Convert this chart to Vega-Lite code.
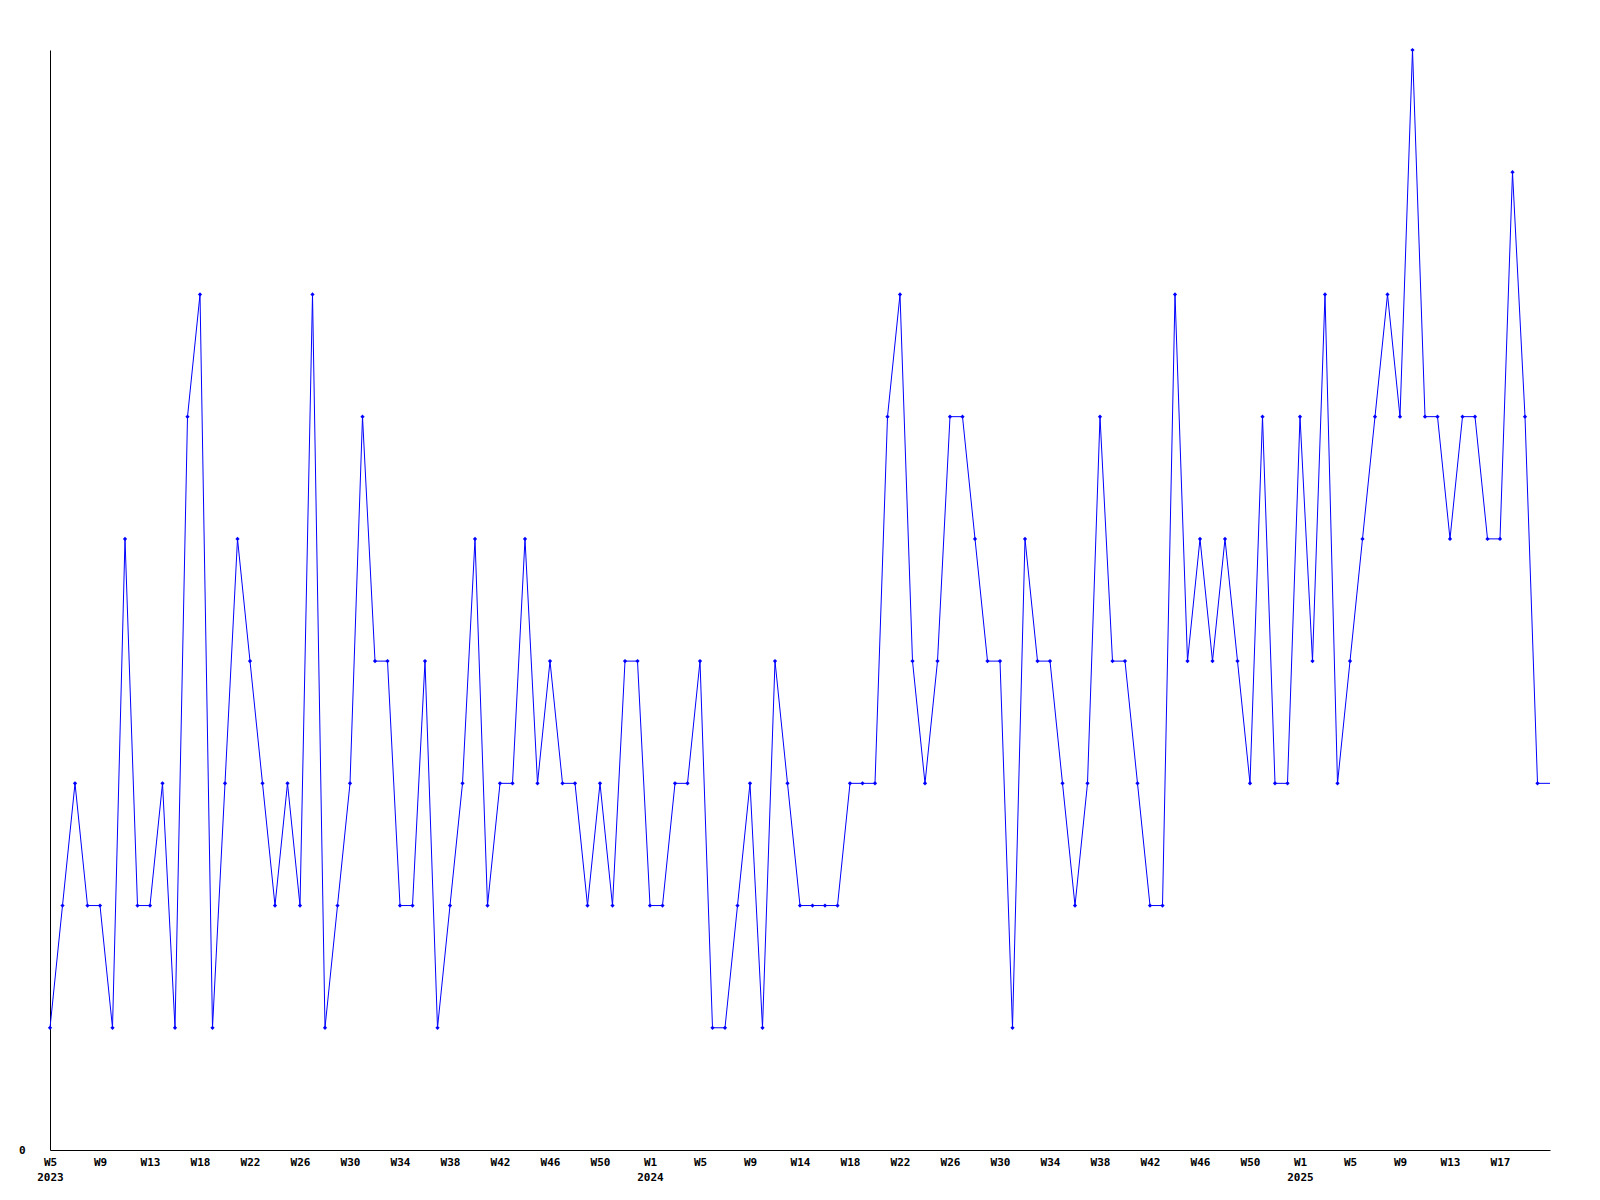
{
  "$schema": "https://vega.github.io/schema/vega-lite/v6.json",
  "width": 1500,
  "height": 1100,
  "autosize": {"type": "none"},
  "padding": {"left": 50, "top": 50, "right": 50, "bottom": 50},
  "background": "#ffffff",
  "config": {"view": {"stroke": null}},
  "data": {"values": [
    {"week":"2023-01-30","count":1},{"week":"2023-02-06","count":2},{"week":"2023-02-13","count":3},{"week":"2023-02-20","count":2},{"week":"2023-02-27","count":2},
    {"week":"2023-03-06","count":1},{"week":"2023-03-13","count":5},{"week":"2023-03-20","count":2},{"week":"2023-03-27","count":2},
    {"week":"2023-04-03","count":3},{"week":"2023-04-10","count":1},{"week":"2023-04-17","count":6},{"week":"2023-04-24","count":7},
    {"week":"2023-05-01","count":1},{"week":"2023-05-08","count":3},{"week":"2023-05-15","count":5},{"week":"2023-05-22","count":4},{"week":"2023-05-29","count":3},
    {"week":"2023-06-05","count":2},{"week":"2023-06-12","count":3},{"week":"2023-06-19","count":2},{"week":"2023-06-26","count":7},
    {"week":"2023-07-03","count":1},{"week":"2023-07-10","count":2},{"week":"2023-07-17","count":3},{"week":"2023-07-24","count":6},{"week":"2023-07-31","count":4},
    {"week":"2023-08-07","count":4},{"week":"2023-08-14","count":2},{"week":"2023-08-21","count":2},{"week":"2023-08-28","count":4},
    {"week":"2023-09-04","count":1},{"week":"2023-09-11","count":2},{"week":"2023-09-18","count":3},{"week":"2023-09-25","count":5},
    {"week":"2023-10-02","count":2},{"week":"2023-10-09","count":3},{"week":"2023-10-16","count":3},{"week":"2023-10-23","count":5},{"week":"2023-10-30","count":3},
    {"week":"2023-11-06","count":4},{"week":"2023-11-13","count":3},{"week":"2023-11-20","count":3},{"week":"2023-11-27","count":2},
    {"week":"2023-12-04","count":3},{"week":"2023-12-11","count":2},{"week":"2023-12-18","count":4},{"week":"2023-12-25","count":4},
    {"week":"2024-01-01","count":2},{"week":"2024-01-08","count":2},{"week":"2024-01-15","count":3},{"week":"2024-01-22","count":3},{"week":"2024-01-29","count":4},
    {"week":"2024-02-05","count":1},{"week":"2024-02-12","count":1},{"week":"2024-02-19","count":2},{"week":"2024-02-26","count":3},
    {"week":"2024-03-04","count":1},{"week":"2024-03-11","count":4},{"week":"2024-03-18","count":3},{"week":"2024-03-25","count":2},
    {"week":"2024-04-01","count":2},{"week":"2024-04-08","count":2},{"week":"2024-04-15","count":2},{"week":"2024-04-22","count":3},{"week":"2024-04-29","count":3},
    {"week":"2024-05-06","count":3},{"week":"2024-05-13","count":6},{"week":"2024-05-20","count":7},{"week":"2024-05-27","count":4},
    {"week":"2024-06-03","count":3},{"week":"2024-06-10","count":4},{"week":"2024-06-17","count":6},{"week":"2024-06-24","count":6},
    {"week":"2024-07-01","count":5},{"week":"2024-07-08","count":4},{"week":"2024-07-15","count":4},{"week":"2024-07-22","count":1},{"week":"2024-07-29","count":5},
    {"week":"2024-08-05","count":4},{"week":"2024-08-12","count":4},{"week":"2024-08-19","count":3},{"week":"2024-08-26","count":2},
    {"week":"2024-09-02","count":3},{"week":"2024-09-09","count":6},{"week":"2024-09-16","count":4},{"week":"2024-09-23","count":4},{"week":"2024-09-30","count":3},
    {"week":"2024-10-07","count":2},{"week":"2024-10-14","count":2},{"week":"2024-10-21","count":7},{"week":"2024-10-28","count":4},
    {"week":"2024-11-04","count":5},{"week":"2024-11-11","count":4},{"week":"2024-11-18","count":5},{"week":"2024-11-25","count":4},
    {"week":"2024-12-02","count":3},{"week":"2024-12-09","count":6},{"week":"2024-12-16","count":3},{"week":"2024-12-23","count":3},{"week":"2024-12-30","count":6},
    {"week":"2025-01-06","count":4},{"week":"2025-01-13","count":7},{"week":"2025-01-20","count":3},{"week":"2025-01-27","count":4},
    {"week":"2025-02-03","count":5},{"week":"2025-02-10","count":6},{"week":"2025-02-17","count":7},{"week":"2025-02-24","count":6},
    {"week":"2025-03-03","count":9},{"week":"2025-03-10","count":6},{"week":"2025-03-17","count":6},{"week":"2025-03-24","count":5},{"week":"2025-03-31","count":6},
    {"week":"2025-04-07","count":6},{"week":"2025-04-14","count":5},{"week":"2025-04-21","count":5},{"week":"2025-04-28","count":8},
    {"week":"2025-05-05","count":6},{"week":"2025-05-12","count":3},{"week":"2025-05-19","count":3,"partial":true}
  ]},
  "encoding": {
    "x": {
      "field": "week",
      "type": "temporal",
      "scale": {"type": "utc", "domain": [1675036800000, 1747612800000], "nice": false},
      "axis": {
        "title": null,
        "grid": false,
        "ticks": false,
        "domainColor": "#000000",
        "domainWidth": 1,
        "labelFlush": false,
        "labelOverlap": false,
        "labelFont": "DejaVu Sans Mono",
        "labelFontWeight": "bold",
        "labelFontSize": 11,
        "labelColor": "#000000",
        "labelPadding": 6,
        "labelBaseline": "top",
        "labelLineHeight": 15,
        "values": [1675036800000,1677456000000,1679875200000,1682294400000,1684713600000,1687132800000,1689552000000,1691971200000,1694390400000,1696809600000,1699228800000,1701648000000,1704067200000,1706486400000,1708905600000,1711324800000,1713744000000,1716163200000,1718582400000,1721001600000,1723420800000,1725840000000,1728259200000,1730678400000,1733097600000,1735516800000,1737936000000,1740355200000,1742774400000,1745193600000],
        "labelExpr": "[['W5','2023'],'W9','W13','W18','W22','W26','W30','W34','W38','W42','W46','W50',['W1','2024'],'W5','W9','W14','W18','W22','W26','W30','W34','W38','W42','W46','W50',['W1','2025'],'W5','W9','W13','W17'][round((datum.value - 1675036800000) / 2419200000)]"
      }
    },
    "y": {
      "field": "count",
      "type": "quantitative",
      "scale": {"domain": [0, 9], "nice": false},
      "axis": {
        "title": null,
        "grid": false,
        "ticks": false,
        "values": [0],
        "domainColor": "#000000",
        "domainWidth": 1,
        "labelFont": "DejaVu Sans Mono",
        "labelFontWeight": "bold",
        "labelFontSize": 11,
        "labelColor": "#000000",
        "labelPadding": 25
      }
    }
  },
  "layer": [
    {"mark": {"type": "line", "color": "#0000ff", "strokeWidth": 1}},
    {
      "transform": [{"filter": "!datum.partial"}],
      "mark": {"type": "point", "shape": "diamond", "filled": true, "size": 18, "color": "#0000ff", "opacity": 1}
    }
  ]
}
